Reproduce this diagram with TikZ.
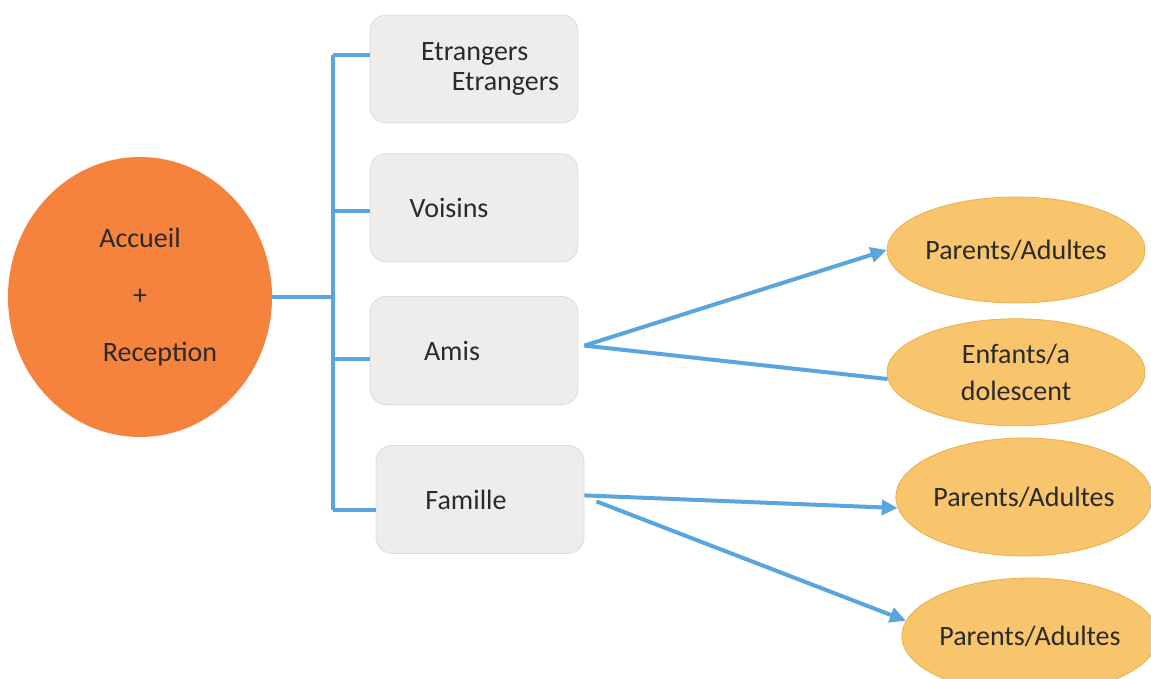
\documentclass[tikz,border=0pt]{standalone}
\usepackage{fontspec}
\setmainfont{Carlito}
\usepackage{xcolor}
\usetikzlibrary{positioning,arrows.meta,shapes.geometric}

\definecolor{hubcolor}{HTML}{F5823D}
\definecolor{boxfill}{HTML}{EFECEC}
\definecolor{boxedge}{HTML}{DEDADA}
\definecolor{ovalfill}{HTML}{F9C56C}
\definecolor{ovaledge}{HTML}{E9B04E}
\definecolor{linkblue}{HTML}{5BA5DE}
\definecolor{textgray}{HTML}{2A2A2A}

\begin{document}
\begin{tikzpicture}[
	x=0.5pt, y=-0.5pt,
	node distance=15pt,
	font=\fontsize{14}{17}\selectfont,
	text=textgray,
	hub/.style={
		ellipse,
		fill=hubcolor,
		minimum width=132pt,
		minimum height=140pt,
		align=center
	},
	group/.style={
		rectangle,
		draw=boxedge,
		fill=boxfill,
		rounded corners=8pt,
		minimum width=104pt,
		minimum height=54pt,
		align=left
	},
	person/.style={
		ellipse,
		draw=ovaledge,
		fill=ovalfill,
		inner sep=0pt,
		minimum width=129pt,
		minimum height=53pt,
		align=center
	},
	tree/.style={
		draw=linkblue,
		line width=2pt
	},
	link/.style={
		tree,
		-{Triangle[length=8pt,width=7.5pt]}
	}
	]
	\useasboundingbox (0,0) rectangle (1151,679);

	\node (acc) [hub] at (140,297) {Accueil\\[11.5pt]+\\[11.5pt]\hspace*{20pt}Reception};

	% groups
	\node (etr) [group] at (474,69) {\hspace*{16pt}Etrangers\\[-2pt]\hspace*{16pt}\hspace*{1.1em}Etrangers};
	\node (voi) [group, below=15pt of etr] {Voisins\hspace*{25pt}};
	\node (amis) [group, below=17pt of voi] {Amis\hspace*{22pt}};
	\node (fam) [group, below=20pt of amis, xshift=3pt] {Famille\hspace*{14pt}};

	% tree
	\coordinate (bustop) at (333,55);
	\coordinate (busbot) at (333,510);
	\draw[tree] (bustop) -- (busbot);
	\draw[tree] (acc.east) -- (acc.east -| bustop);
	\draw[tree] (bustop) -- (bustop -| etr.west);
	\draw[tree] ([yshift=-1.5pt]voi.west) -- ([yshift=-1.5pt]voi.west -| bustop);
	\draw[tree] ([yshift=-4pt]amis.west) -- ([yshift=-4pt]amis.west -| bustop);
	\draw[tree] (busbot) -- (busbot -| fam.west);

	% people
	\node (par1) [person] at (1016,250) {Parents/Adultes};
	\node (enf) [person, below=7.5pt of par1, minimum height=53.5pt] {Enfants/a\\[1.5pt]dolescent};
	\node (par2) [person, minimum width=126pt, minimum height=59pt] at (1024,497) {Parents/Adultes};
	\node (par3) [person, minimum width=123pt, minimum height=58pt] at (1030,636) {Parents/Adultes};

	\coordinate (amisout) at ([xshift=3pt,yshift=2.5pt]amis.east);
	\draw[link] (amisout) -- (par1.west);
	\draw[tree] (amisout) -- (enf.183);

	\draw[link] ([yshift=2pt]fam.east) -- (par2.185);
	\draw[link] ([xshift=6pt,yshift=-1pt]fam.east) -- (par3.173);
\end{tikzpicture}
\end{document}
